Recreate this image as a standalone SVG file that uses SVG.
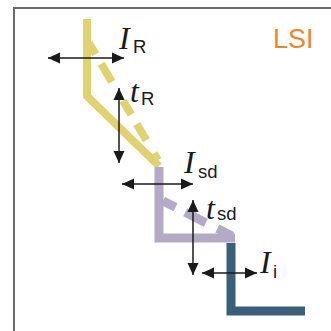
<svg xmlns="http://www.w3.org/2000/svg" width="331" height="331" viewBox="0 0 331 331">
<defs>
<style>
.frame{fill:none;stroke:#6a6a6a;stroke-width:2}
.yel{fill:none;stroke:#e0d272;stroke-width:8;stroke-linecap:butt;stroke-linejoin:miter}
.pur{fill:none;stroke:#b4aac8;stroke-width:9;stroke-linejoin:miter}
.teal{fill:none;stroke:#3b5f79;stroke-width:9;stroke-linejoin:miter}
.arr{fill:none;stroke:#1a1a1a;stroke-width:1.5;marker-start:url(#ah);marker-end:url(#ah)}
.it{font-family:"Liberation Serif",serif;font-style:italic;font-size:32px;fill:#1a1a1a}
.sub{font-family:"Liberation Sans",sans-serif;font-size:18.5px;fill:#1a1a1a}
.lsi{font-family:"Liberation Sans",sans-serif;font-size:27px;fill:#f0862a}
</style>
<marker id="ah" markerUnits="userSpaceOnUse" markerWidth="13" markerHeight="12" refX="12" refY="6" orient="auto-start-reverse">
<path d="M0,0.5 L12,6 L0,11.5 z" fill="#1a1a1a"/>
</marker>
</defs>
<path class="frame" d="M14,331 V8 H331"/>
<g id="curve-yellow">
<polyline class="yel" points="87,19 87,96 159,166"/>
<line class="yel" x1="89" y1="43" x2="158" y2="160" stroke-width="6.5" stroke-dasharray="13 11 21 22 16 11 19 15 8"/>
</g>
<g id="curve-purple">
<polyline class="pur" points="159,167 159,238 235,238"/>
<line class="pur" x1="163" y1="201" x2="232" y2="236" stroke-width="6.5" stroke-dasharray="14 11 23 13 17"/>
</g>
<g id="curve-teal">
<polyline class="teal" points="231,243 231,311 305,311"/>
</g>
<g id="connectors">
<line class="arr" x1="48" y1="58" x2="124" y2="58"/>
<line class="arr" x1="119" y1="88" x2="119" y2="163"/>
<line class="arr" x1="122" y1="184" x2="193" y2="184"/>
<line class="arr" x1="193" y1="200" x2="193" y2="275"/>
<line class="arr" x1="202" y1="273" x2="257" y2="273"/>
</g>
<g id="label-IR"><text class="it" x="119" y="49">I</text><text class="sub" x="133" y="53">R</text></g>
<g id="label-tR"><text class="it" x="130" y="102">t</text><text class="sub" x="141" y="105">R</text></g>
<g id="label-Isd"><text class="it" x="184" y="173">I</text><text class="sub" x="198" y="178">sd</text></g>
<g id="label-tsd"><text class="it" x="206" y="219">t</text><text class="sub" x="217" y="220">sd</text></g>
<g id="label-Ii"><text class="it" x="260" y="273">I</text><text class="sub" x="273" y="278">i</text></g>
<g id="label-LSI"><text class="lsi" x="273" y="48">LSI</text></g>
</svg>
